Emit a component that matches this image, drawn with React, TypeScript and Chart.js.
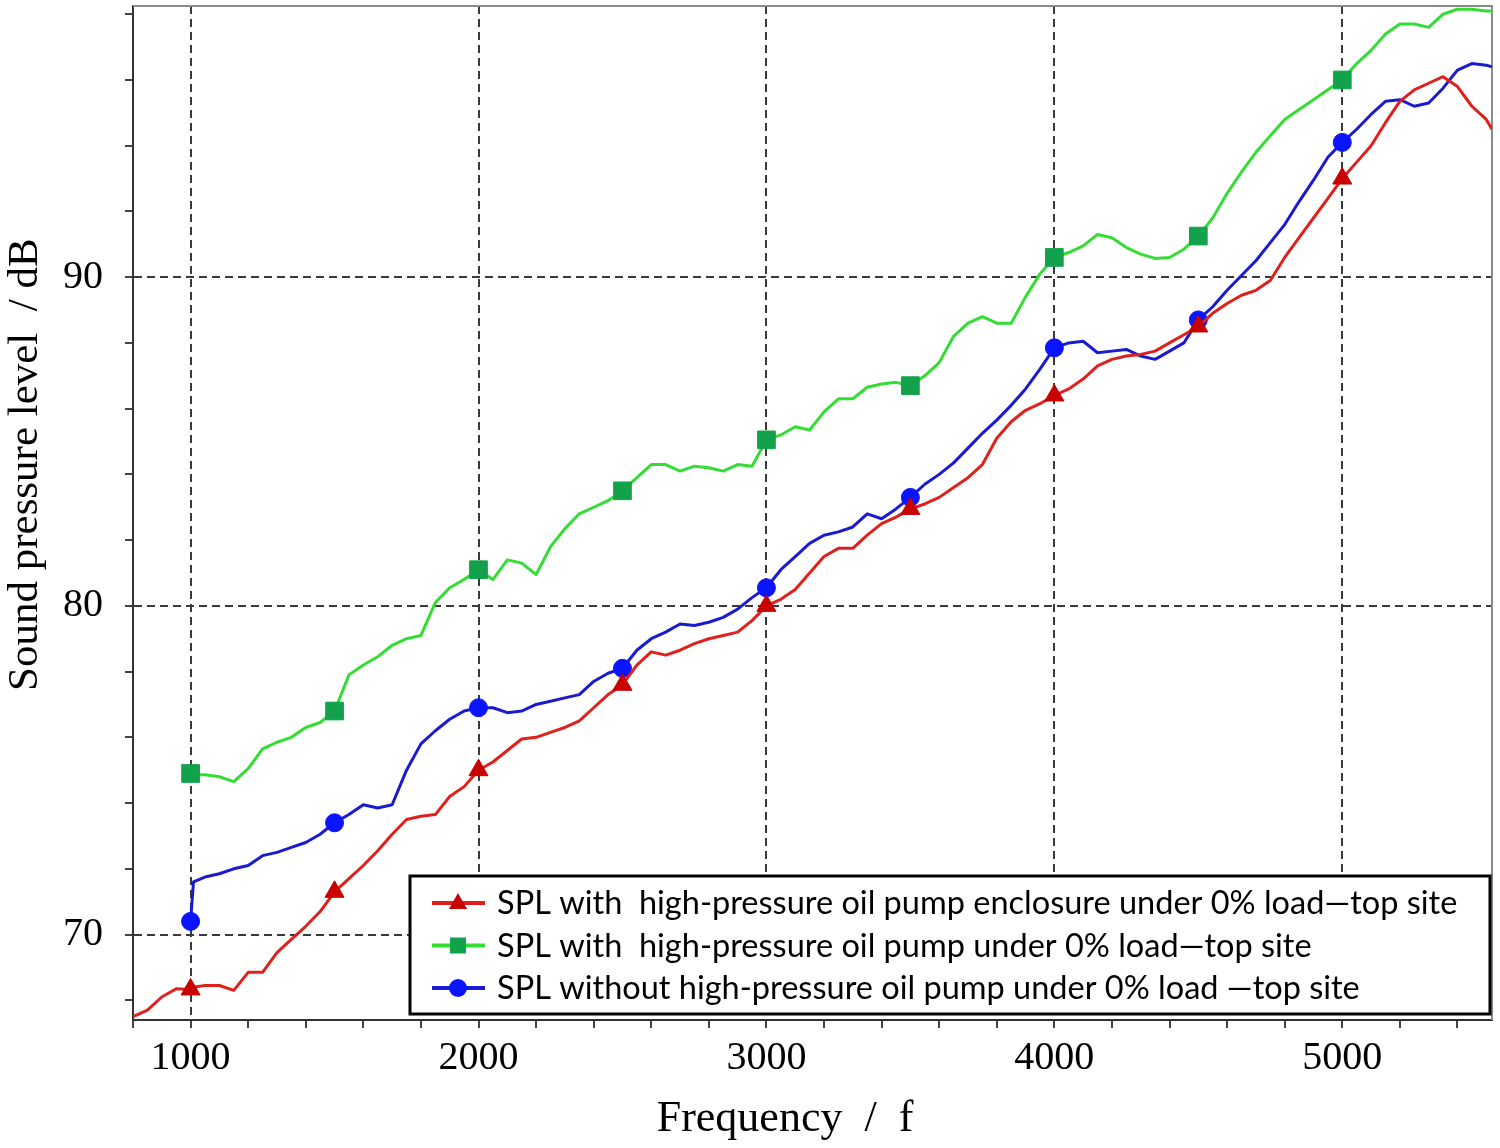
import React, { useEffect, useRef } from "react";
import Chart from "chart.js/auto";

// sampled frequencies (Hz), shared by the three curves
const freqs = [
  800, 850, 900, 950,
  1000, 1010, 1050, 1100, 1150, 1200, 1250, 1300, 1350, 1400, 1450, 1500, 1550, 1600, 1650, 1700, 1750, 1800, 1850, 1900, 1950,
  2000, 2050, 2100, 2150, 2200, 2250, 2300, 2350, 2400, 2450, 2500, 2550, 2600, 2650, 2700, 2750, 2800, 2850, 2900, 2950,
  3000, 3050, 3100, 3150, 3200, 3250, 3300, 3350, 3400, 3450, 3500, 3550, 3600, 3650, 3700, 3750, 3800, 3850, 3900, 3950,
  4000, 4050, 4100, 4150, 4200, 4250, 4300, 4350, 4400, 4450, 4500, 4550, 4600, 4650, 4700, 4750, 4800, 4850, 4900, 4950,
  5000, 5050, 5100, 5150, 5200, 5250, 5300, 5350, 5400, 5450, 5500, 5520,
];

const splEnclosure = [
  67.5, 67.7, 68.1, 68.35,
  68.33, 68.4, 68.45, 68.45, 68.3, 68.85, 68.85, 69.45, 69.85, 70.25, 70.7, 71.3, 71.7, 72.1, 72.55, 73.05, 73.5, 73.6, 73.65, 74.2, 74.5,
  75.0, 75.25, 75.6, 75.95, 76.0, 76.15, 76.3, 76.5, 76.9, 77.3, 77.6, 78.2, 78.6, 78.5, 78.65, 78.85, 79.0, 79.1, 79.2, 79.55,
  80.0, 80.2, 80.5, 81.0, 81.5, 81.75, 81.75, 82.15, 82.5, 82.7, 82.95, 83.1, 83.3, 83.6, 83.9, 84.3, 85.1, 85.6, 85.95, 86.15,
  86.4, 86.6, 86.9, 87.3, 87.5, 87.6, 87.65, 87.75, 88.0, 88.25, 88.5, 88.9, 89.2, 89.45, 89.6, 89.9, 90.6, 91.2, 91.8, 92.4,
  93.0, 93.5, 94.0, 94.7, 95.35, 95.7, 95.9, 96.1, 95.8, 95.2, 94.8, 94.5,
];

const splWithPump = [
  null, null, null, null,
  74.9, 74.86, 74.86, 74.8, 74.65, 75.05, 75.65, 75.85, 76.0, 76.3, 76.45, 76.8, 77.9, 78.2, 78.45, 78.8, 79.0, 79.1, 80.1, 80.55, 80.8,
  81.1, 80.8, 81.4, 81.3, 80.95, 81.8, 82.35, 82.8, 83.0, 83.2, 83.5, 83.9, 84.3, 84.3, 84.1, 84.25, 84.2, 84.1, 84.3, 84.25,
  85.05, 85.2, 85.45, 85.35, 85.9, 86.3, 86.3, 86.65, 86.75, 86.8, 86.7, 87.0, 87.4, 88.2, 88.6, 88.8, 88.6, 88.6, 89.4, 90.1,
  90.6, 90.75, 90.95, 91.3, 91.2, 90.9, 90.7, 90.57, 90.6, 90.85, 91.25, 91.8, 92.55, 93.2, 93.8, 94.3, 94.8, 95.1, 95.4, 95.7,
  96.0, 96.5, 96.9, 97.4, 97.7, 97.7, 97.6, 98.0, 98.15, 98.15, 98.1, 98.1,
];

const splWithoutPump = [
  null, null, null, null,
  70.4, 71.6, 71.75, 71.85, 72.0, 72.1, 72.4, 72.5, 72.65, 72.8, 73.05, 73.4, 73.65, 73.95, 73.85, 73.95, 75.0, 75.8, 76.2, 76.55, 76.8,
  76.9, 76.9, 76.75, 76.8, 77.0, 77.1, 77.2, 77.3, 77.7, 77.95, 78.1, 78.65, 79.0, 79.2, 79.45, 79.4, 79.5, 79.65, 79.9, 80.25,
  80.55, 81.1, 81.5, 81.9, 82.15, 82.25, 82.4, 82.8, 82.65, 82.95, 83.3, 83.7, 84.0, 84.35, 84.8, 85.25, 85.65, 86.1, 86.6, 87.2,
  87.85, 88.0, 88.05, 87.7, 87.75, 87.8, 87.6, 87.5, 87.75, 88.0, 88.7, 89.1, 89.6, 90.05, 90.5, 91.05, 91.6, 92.3, 92.95, 93.65,
  94.1, 94.5, 94.95, 95.35, 95.4, 95.2, 95.3, 95.75, 96.3, 96.5, 96.45, 96.4,
];

const markerFreqs = [1000, 1500, 2000, 2500, 3000, 3500, 4000, 4500, 5000];

const seriesLabels = [
  "SPL with  high-pressure oil pump enclosure under 0% load\u2014top site",
  "SPL with  high-pressure oil pump under 0% load\u2014top site",
  "SPL without high-pressure oil pump under 0% load \u2014top site",
];

const xTicks = [
  800, 1000, 1200, 1400, 1600, 1800, 2000, 2200, 2400, 2600, 2800, 3000,
  3200, 3400, 3600, 3800, 4000, 4200, 4400, 4600, 4800, 5000, 5200, 5400,
];
const xLabels = [1000, 2000, 3000, 4000, 5000];
const yTicks = [68, 70, 72, 74, 76, 78, 80, 82, 84, 86, 88, 90, 92, 94, 96, 98];
const yLabels = [70, 80, 90];

const serif = "'Liberation Serif', 'Times New Roman', serif";
const nbsp = (n: number) => "\u00a0".repeat(n);

const boxLegend = {
  id: "boxLegend",
  afterDatasetsDraw(chart: any) {
    const { ctx, chartArea } = chart;
    const w = 1080;
    const h = 138;
    const x0 = chartArea.right - 2 - w;
    const y0 = chartArea.bottom - 6 - h;
    ctx.save();
    ctx.fillStyle = "#ffffff";
    ctx.fillRect(x0, y0, w, h);
    ctx.lineWidth = 3;
    ctx.strokeStyle = "#000000";
    ctx.strokeRect(x0, y0, w, h);
    ctx.font = "32.5px Lato, 'Noto Sans', sans-serif";
    ctx.textBaseline = "middle";
    chart.data.datasets.forEach((ds: any, i: number) => {
      const cy = y0 + 27 + i * 42.5;
      const mx = x0 + 48;
      ctx.strokeStyle = ds.borderColor;
      ctx.lineWidth = 4;
      ctx.beginPath();
      ctx.moveTo(x0 + 22, cy);
      ctx.lineTo(x0 + 75, cy);
      ctx.stroke();
      ctx.fillStyle = ds.pointBackgroundColor;
      ctx.beginPath();
      if (ds.pointStyle === "triangle") {
        ctx.moveTo(mx, cy - 10);
        ctx.lineTo(mx + 9, cy + 6);
        ctx.lineTo(mx - 9, cy + 6);
        ctx.closePath();
      } else if (ds.pointStyle === "rect") {
        ctx.rect(mx - 8, cy - 8, 16, 16);
      } else {
        ctx.arc(mx, cy, 9, 0, Math.PI * 2);
      }
      ctx.fill();
      ctx.fillStyle = "#000000";
      ctx.fillText(ds.label, x0 + 87, cy + 1);
    });
    ctx.restore();
  },
};

const frame = {
  id: "frame",
  beforeDatasetsDraw(chart: any) {
    const { ctx, chartArea } = chart;
    ctx.save();
    ctx.strokeStyle = "#8a8a8a";
    ctx.lineWidth = 2;
    ctx.beginPath();
    ctx.moveTo(chartArea.left, chartArea.top);
    ctx.lineTo(chartArea.right, chartArea.top);
    ctx.lineTo(chartArea.right, chartArea.bottom);
    ctx.stroke();
    ctx.restore();
  },
};

const toPoints = (values: (number | null)[]) =>
  freqs.map((f, i) => ({ x: f, y: values[i] }));

const markerRadius = (r: number) => (c: any) =>
  markerFreqs.includes(freqs[c.dataIndex]) ? r : 0;

const SplChart: React.FC = () => {
  const chartRef = useRef<HTMLCanvasElement>(null);
  const chartInstance = useRef<Chart | null>(null);

  useEffect(() => {
    document.body.style.margin = "0";
    if (!chartRef.current) return;
    if (chartInstance.current) chartInstance.current.destroy();
    const ctx = chartRef.current.getContext("2d");

    chartInstance.current = new Chart(ctx!, {
      type: "line",
      data: {
        datasets: [
          {
            label: seriesLabels[0],
            data: toPoints(splEnclosure),
            borderColor: "#e0201c",
            borderWidth: 3,
            pointStyle: "triangle",
            pointBackgroundColor: "#c80000",
            pointBorderColor: "#c80000",
            pointRadius: markerRadius(11),
            pointBorderWidth: 1,
          },
          {
            label: seriesLabels[1],
            data: toPoints(splWithPump),
            borderColor: "#33dd33",
            borderWidth: 3,
            pointStyle: "rect",
            pointBackgroundColor: "#13a24c",
            pointBorderColor: "#13a24c",
            pointRadius: markerRadius(12.5),
            pointBorderWidth: 1,
          },
          {
            label: seriesLabels[2],
            data: toPoints(splWithoutPump),
            borderColor: "#1a1ad0",
            borderWidth: 3,
            pointStyle: "circle",
            pointBackgroundColor: "#0a14ff",
            pointBorderColor: "#0a14ff",
            pointRadius: markerRadius(9),
            pointBorderWidth: 1,
          },
        ] as any,
      },
      options: {
        animation: false,
        responsive: true,
        maintainAspectRatio: false,
        layout: { padding: { top: 6, right: 8, left: 0, bottom: 0 } },
        plugins: {
          legend: { display: false },
          tooltip: { enabled: false },
        },
        elements: { line: { tension: 0, borderJoinStyle: "round" } },
        scales: {
          x: {
            type: "linear",
            min: 800,
            max: 5520,
            afterFit: (s: any) => {
              s.height = 128;
              s.paddingLeft = 0;
              s.paddingRight = 0;
            },
            afterBuildTicks: (s: any) => {
              s.ticks = xTicks.map((v) => ({ value: v }));
            },
            ticks: {
              autoSkip: false,
              maxRotation: 0,
              padding: 6,
              color: "#000",
              font: { family: serif, size: 40 },
              callback: (v: any) => (xLabels.includes(Number(v)) ? String(v) : ""),
            },
            grid: {
              color: (c: any) =>
                c.tick && xLabels.includes(c.tick.value) ? "#3a3a3a" : "rgba(0,0,0,0)",
              lineWidth: 2,
              tickColor: "#444",
              tickLength: 8,
              tickWidth: 2,
            },
            border: { display: true, color: "#333", width: 2, dash: [8, 5] },
            title: {
              display: true,
              text: "Frequency  /  f" + nbsp(5),
              color: "#000",
              font: { family: serif, size: 44 },
              padding: { top: 0, bottom: 2 },
            },
          },
          y: {
            type: "linear",
            min: 67.4,
            max: 98.25,
            afterFit: (s: any) => {
              s.width = 133;
              s.paddingTop = 0;
              s.paddingBottom = 0;
            },
            afterBuildTicks: (s: any) => {
              s.ticks = yTicks.map((v) => ({ value: v }));
            },
            ticks: {
              autoSkip: false,
              padding: 22,
              color: "#000",
              font: { family: serif, size: 40 },
              callback: (v: any) => (yLabels.includes(Number(v)) ? String(v) : ""),
            },
            grid: {
              color: (c: any) =>
                c.tick && yLabels.includes(c.tick.value) ? "#3a3a3a" : "rgba(0,0,0,0)",
              lineWidth: 2,
              tickColor: "#444",
              tickLength: 8,
              tickWidth: 2,
            },
            border: { display: true, color: "#333", width: 2, dash: [8, 5] },
            title: {
              display: true,
              text: nbsp(9) + "Sound pressure level  / dB",
              color: "#000",
              font: { family: serif, size: 43 },
              padding: { top: 0, bottom: 0 },
            },
          },
        },
      },
      plugins: [frame, boxLegend],
    });

    return () => {
      if (chartInstance.current) {
        chartInstance.current.destroy();
        chartInstance.current = null;
      }
    };
  }, []);

  return (
    <div style={{ position: "relative", width: 1500, height: 1148 }}>
      <canvas ref={chartRef} />
    </div>
  );
};

export default function App() {
  return <SplChart />;
}
